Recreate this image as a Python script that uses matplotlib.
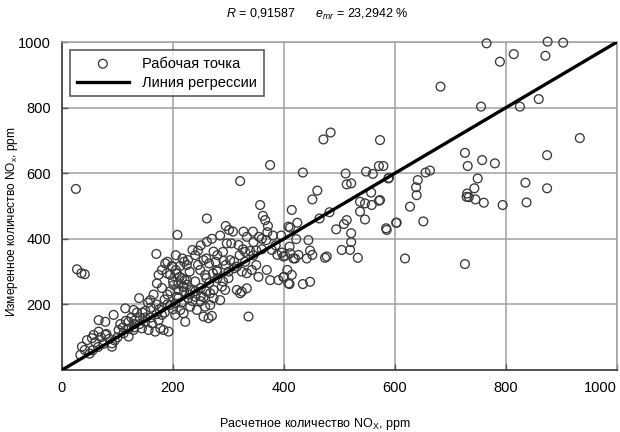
import matplotlib
matplotlib.use("Agg")
import matplotlib.pyplot as plt
from matplotlib import font_manager

names = {f.name for f in font_manager.fontManager.ttflist}
FONT = "Liberation Sans Narrow" if "Liberation Sans Narrow" in names else "Liberation Sans"
plt.rcParams['font.family'] = [FONT, 'DejaVu Sans']
plt.rcParams['mathtext.fontset'] = 'custom'
plt.rcParams['mathtext.rm'] = FONT
plt.rcParams['mathtext.it'] = FONT + ':italic'

# ---- data (calculated, measured NOx, ppm) ----
calc = [765, 875, 903, 814, 871, 789, 682, 859, 755, 825, 933,
        726, 757, 780, 731, 874, 749, 743, 835, 874, 730, 729, 733, 745, 760, 794, 837, 726, 618, 651,
        627, 639, 638, 641, 655, 663, 603, 584, 585, 573, 571, 589, 573,
        471, 484, 375, 321, 25,
        434, 511, 548, 560, 579, 588, 513, 521, 460, 451, 557, 571, 537, 546, 558, 537, 546, 414, 482,
        464, 424, 411, 513, 508, 494, 602, 521, 521, 504, 519, 533, 474, 477, 444, 422, 447, 451, 441,
        426, 410, 417, 402, 396, 406, 400, 410, 434, 447,
        357, 261, 362, 366, 371, 208, 295, 301, 308, 327, 344, 333, 368, 355, 408, 261, 235, 245, 273,
        297, 305, 318, 326, 339, 350, 360, 378, 388, 399, 411, 420, 217, 227, 255, 265, 277, 291, 303,
        199, 205, 195, 212, 221, 249, 258, 272, 279, 315, 324, 333, 342, 354, 369, 375, 390, 399, 408,
        414, 288, 294, 273, 267, 315, 324, 333, 321, 201, 210, 218, 231, 207, 227, 240, 255, 273, 285,
        195, 204, 213, 231, 243, 258, 267, 204, 222, 219, 255, 264, 270, 336,
        27, 35, 41, 170, 186, 198, 213, 225, 174, 171, 180, 189, 207, 216, 225, 210, 219, 139, 159, 114,
        129, 93, 66, 78, 45, 54, 36, 41, 33, 90, 78, 66, 57, 120, 132, 150, 162, 174, 180, 102, 111, 120,
        129, 144, 156, 168, 177, 183, 192, 90,
        150, 160, 170, 140, 130, 145, 185, 190, 165, 155, 175, 195, 180, 200, 225, 240, 250, 260, 230,
        245, 260, 280, 290, 300, 310, 320, 330, 345, 350, 240, 250, 260, 280, 290, 300, 230, 220, 210,
        190, 180, 170, 160, 150, 140, 130, 120, 110, 100, 95, 85, 75, 65, 55, 50, 60, 70, 80, 105, 115,
        125, 135, 185, 200, 215, 235, 250, 265, 280, 295, 310, 330, 345, 360, 380, 385, 395, 370, 270,
        285, 250, 240, 220, 205, 190]
meas = [996, 1001, 998, 963, 958, 940, 864, 826, 803, 803, 707,
        662, 640, 630, 622, 655, 584, 554, 571, 554, 538, 528, 527, 520, 510, 503, 511, 323, 340, 453,
        498, 533, 557, 579, 602, 608, 449, 432, 427, 701, 622, 586, 518,
        703, 724, 625, 576, 552,
        602, 599, 605, 598, 622, 584, 566, 569, 547, 520, 541, 516, 513, 508, 503, 483, 459, 488, 481,
        462, 449, 434, 457, 445, 429, 449, 417, 390, 366, 366, 342, 342, 346, 396, 399, 364, 351, 340,
        351, 376, 340, 348, 358, 305, 284, 262, 262, 269,
        503, 462, 470, 457, 439, 412, 439, 427, 422, 422, 422, 406, 396, 406, 437, 391, 366, 364, 361,
        386, 386, 381, 368, 363, 364, 368, 366, 351, 346, 356, 340, 340, 335, 335, 325, 330, 333, 335,
        315, 305, 290, 284, 274, 305, 290, 295, 305, 315, 300, 295, 305, 284, 305, 274, 274, 283, 264,
        290, 254, 244, 244, 234, 244, 239, 249, 234, 259, 244, 254, 244, 223, 219, 223, 222, 219, 213,
        198, 203, 183, 193, 183, 193, 198, 168, 147, 173, 163, 158, 165, 163,
        307, 295, 292, 354, 325, 317, 317, 320, 290, 264, 305, 295, 295, 280, 274, 264, 254, 219, 213, 188,
        183, 168, 152, 147, 91, 97, 71, 61, 46, 71, 107, 117, 107, 147, 152, 147, 142, 152, 168, 122, 112, 102,
        122, 127, 122, 117, 127, 122, 117, 81,
        180, 190, 200, 160, 140, 175, 215, 230, 230, 205, 185, 240, 250, 270, 260, 270, 250, 280, 300,
        320, 340, 350, 360, 300, 330, 350, 330, 350, 320, 240, 210, 240, 280, 270, 280, 230, 240, 220,
        200, 190, 170, 160, 160, 140, 130, 125, 130, 100, 90, 95, 80, 70, 60, 50, 85, 100, 110, 140, 150,
        160, 175, 175, 185, 205, 210, 225, 265, 300, 320, 310, 360, 390, 400, 410, 380, 410, 420, 400,
        410, 380, 350, 330, 350, 330]
reg_x = [0, 1000]
reg_y = [0, 1000]
x_ticks = [0, 200, 400, 600, 800, 1000]
y_ticks = [200, 400, 600, 800, 1000]

fig = plt.figure(figsize=(6.2, 4.32), dpi=100)
ax = fig.add_axes([62/620, 1-370/432, 555/620, 328/432])

ax.scatter(calc, meas, s=40, facecolors='none', edgecolors='#3a3a3a', linewidths=0.95,
           label='Рабочая точка', zorder=3, clip_on=False)
ax.plot(reg_x, reg_y, color='black', lw=2.4, label='Линия регрессии', zorder=4)

ax.set_xlim(0, 1000)
ax.set_ylim(0, 1000)
ax.set_xticks(x_ticks)
ax.set_yticks(y_ticks)
ax.tick_params(direction='in', length=4, width=1, color='#555555', labelsize=10.5, pad=8)
ax.grid(True, color='#a0a0a0', lw=1.1)
ax.set_axisbelow(True)
for s in ['top', 'right']:
    ax.spines[s].set_color('#a0a0a0')
    ax.spines[s].set_linewidth(1.1)
for s in ['left', 'bottom']:
    ax.spines[s].set_color('#444444')
    ax.spines[s].set_linewidth(1.3)

fig.canvas.draw()
xl = ax.get_xticklabels()
xl[-1].set_horizontalalignment('right')
xl[-1].set_x(1.0)

ax.set_xlabel('Расчетное количество NO$_{\\mathrm{X}}$, ppm', fontsize=9)
ax.set_ylabel('Измеренное количество NO$_{\\mathrm{x}}$, ppm', fontsize=8.6)
ax.xaxis.set_label_coords((315-62)/555, -(416-370)/328)
ax.yaxis.set_label_coords((20-62)/555, (370-222)/328)

fig.text(317/620, 1-14/432,
         '$\\mathit{R}$ = 0,91587      $\\mathit{e}_{\\mathit{mr}}$ = 23,2942 %',
         ha='center', va='center', fontsize=9)

leg = ax.legend(loc='upper left', bbox_to_anchor=((70-62)/555, (370-50)/328),
                frameon=True, fancybox=False, edgecolor='#333333', fontsize=10.5,
                handlelength=3.6, borderpad=0.45, labelspacing=0.35, handletextpad=0.9,
                borderaxespad=0)
leg.get_frame().set_linewidth(1.2)

fig.savefig('out.png', dpi=100)
